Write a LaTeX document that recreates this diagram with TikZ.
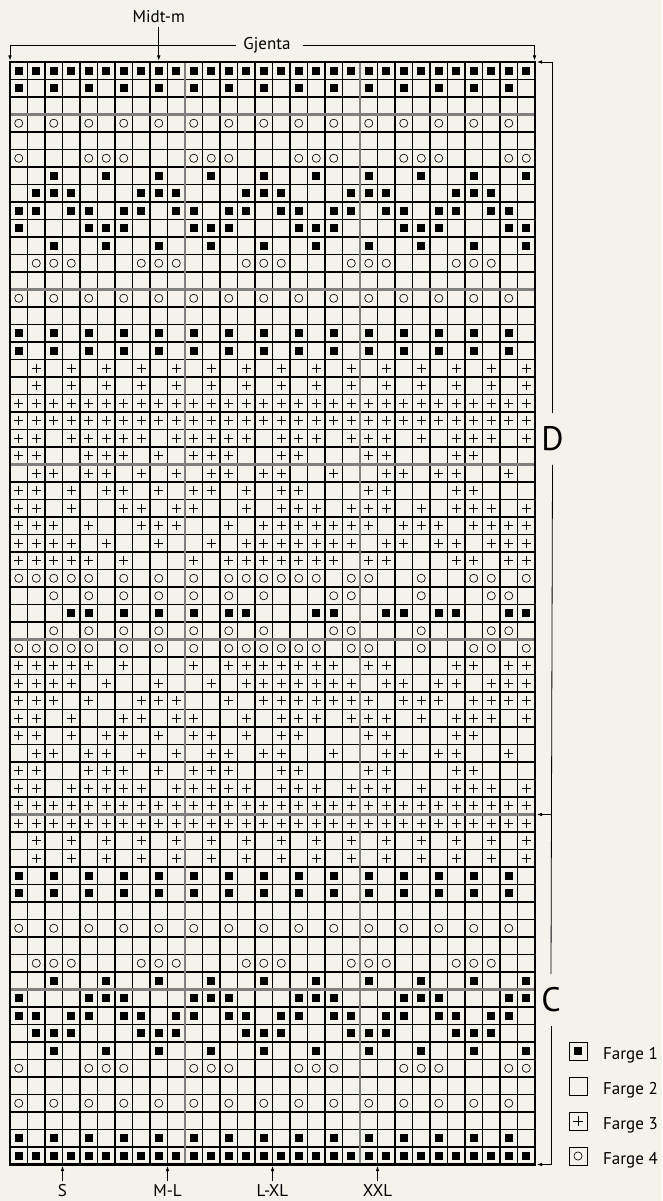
\documentclass[tikz,border=0pt]{standalone}
\usepackage{fontspec}
\setmainfont{PT Sans}
\usetikzlibrary{arrows.meta}
\definecolor{bg}{HTML}{F5F2EB}
\definecolor{gridgray}{HTML}{808080}
\newcount\chcol
\def\chartrow#1#2{\global\chcol=0 \def\chrow{#1}\chparse#2\relax}
\def\chparse#1{\ifx#1\relax\else\global\advance\chcol by 1 \chsym#1\expandafter\chparse\fi}
\def\chsym#1{%
  \pgfmathsetmacro\cx{10+17.5*(\the\chcol-0.5)}%
  \pgfmathsetmacro\cy{62+17.5*(\chrow-0.5)}%
  \ifx#1F\fill[black] (\cx-3.9,\cy-3.9) rectangle (\cx+3.9,\cy+3.9);\fi
  \ifx#1P\draw[symline] (\cx-4.6,\cy) -- (\cx+4.6,\cy) (\cx,\cy-4.6) -- (\cx,\cy+4.6);\fi
  \ifx#1O\draw[symline] (\cx,\cy) circle[radius=4.1];\fi}
\tikzset{
  cellline/.style={line width=1.1pt, black},
  blockline/.style={line width=2.3pt, gridgray},
  border/.style={line width=2.7pt, black},
  symline/.style={line width=0.65pt, black},
  conn/.style={line width=0.8pt, black},
  arr/.style={conn, -{Latex[length=5pt,width=3.6pt]}},
  lbl/.style={font=\fontsize{17}{20}\selectfont, inner sep=0pt},
  biglbl/.style={font=\fontsize{34}{40}\selectfont, inner xsep=2pt, inner ysep=13.5pt},
  legbox/.style={draw, line width=0.9pt, minimum size=18pt, inner sep=0pt},
}
\begin{document}
\begin{tikzpicture}[x=1pt,y=-1pt]
\fill[bg] (0,0) rectangle (662,1201);
\useasboundingbox (0,0) rectangle (662,1201);
% grid
\foreach \i in {0,...,30} \draw[cellline] ({10+17.5*\i},62) -- ({10+17.5*\i},1164.5);
\foreach \j in {0,...,63} \draw[cellline] (10,{62+17.5*\j}) -- (535,{62+17.5*\j});
\foreach \i in {10,20} \draw[blockline] ({10+17.5*\i},62) -- ({10+17.5*\i},1164.5);
\foreach \j in {3,13,23,33,43,53} \draw[blockline] (10,{62+17.5*\j}) -- (535,{62+17.5*\j});
\draw[border] (10,62) rectangle (535,1164.5);
% symbols (F = Farge 1, - = Farge 2, P = Farge 3, O = Farge 4)
\foreach \r/\s in {
1/FFFFFFFFFFFFFFFFFFFFFFFFFFFFFF,
2/F-F-F-F-F-F-F-F-F-F-F-F-F-F-F-,
3/------------------------------,
4/O-O-O-O-O-O-O-O-O-O-O-O-O-O-O-,
5/------------------------------,
6/O---OOO---OOO---OOO---OOO---OO,
7/--F--F--F--F--F--F--F--F--F--F,
8/-FFF---FFF---FFF---FFF---FFF--,
9/FF-FF-FF-FF-FF-FF-FF-FF-FF-FF-,
10/F---FFF---FFF---FFF---FFF---FF,
11/--F--F--F--F--F--F--F--F--F--F,
12/-OOO---OOO---OOO---OOO---OOO--,
13/------------------------------,
14/O-O-O-O-O-O-O-O-O-O-O-O-O-O-O-,
15/------------------------------,
16/F-F-F-F-F-F-F-F-F-F-F-F-F-F-F-,
17/F-F-F-F-F-F-F-F-F-F-F-F-F-F-F-,
18/-P-P-P-P-P-P-P-P-P-P-P-P-P-P-P,
19/-P-P-P-P-P-P-P-P-P-P-P-P-P-P-P,
20/PPPPPPPPPPPPPPPPPPPPPPPPPPPPPP,
21/PPPPPPPPPPPPPPPPPPPPPPPPPPPPPP,
22/PP-PPPPP-PPPPP-PPP-PPP-P-PPP-P,
23/PP--PPP-P-PPP--PP---PP---PP---,
24/-PP-PP-P-P-PP-PP--P--PP-PP--P-,
25/PP-P-PP-P-PP-P-PP---PP---PP---,
26/PP-P--PP-PP--P-PPP-PPP-P-PPP-P,
27/PPP-P--PPP--P-PPPPPPP-PPP-PPPP,
28/PPPP-P--P--P-PPPPPPP-PP-PP-PPP,
29/PPPPP-P---P-PPPPPPP-PP---PP-PP,
30/OOOOO-O-O-O-OOOOOO-OO--O--OO-O,
31/--O-O-O-O-O-O-O---OO---O---OO-,
32/---FF-F-F-F-FF---FF--FF-FF--FF}{%
  \edef\tmp{\noexpand\chartrow{\r}{\s}}\tmp
  \pgfmathtruncatemacro\rr{64-\r}%
  \edef\tmp{\noexpand\chartrow{\rr}{\s}}\tmp
}
% top labels
\node[lbl] (midt) at (158.75,17) {Midt-m};
\coordinate (midtend) at (158.75,60.5);
\draw[arr] ([yshift=-4pt]midt.south) -- (midtend);
\node[lbl] (gj) at (267,45) {Gjenta};
\coordinate (gjl) at (10,60.5);
\coordinate (gjr) at (534.5,60.5);
\draw[arr] ([xshift=-7pt]gj.west) -| (gjl);
\draw[arr] ([xshift=12pt]gj.east) -| (gjr);
% right bracket
\node[biglbl] (D) at (552.5,439) {D};
\node[biglbl] (C) at (551,1000) {C};
\coordinate (gt) at (537,62);
\coordinate (rm) at (552,814.5);
\coordinate (gm) at (537,814.5);
\coordinate (gb) at (537,1164.5);
\draw[arr] (D.north) |- (gt);
\draw[conn] (D.south) -- (C.north);
\draw[arr] (rm) -- (gm);
\draw[arr] (C.south) |- (gb);
% bottom labels
\foreach \n/\x/\t in {S/62.5/S, ML/167.5/M-L, LXL/272.5/L-XL, XXL/377.5/XXL}{
  \node[lbl, anchor=north] (\n) at (\x,1184) {\t};
  \coordinate (\n g) at (\x,1166);
  \draw[arr] ([yshift=3pt]\n.north) -- (\n g);
}
% legend
\node[legbox] (L1) at (578,1051) {};
\node[legbox] (L2) at (578,1086) {};
\node[legbox] (L3) at (578,1121) {};
\node[legbox] (L4) at (578,1156) {};
\fill[black] ([xshift=-4pt,yshift=-4pt]L1.center) rectangle ([xshift=4pt,yshift=4pt]L1.center);
\draw[symline] ([xshift=-4.6pt]L3.center) -- ([xshift=4.6pt]L3.center);
\draw[symline] ([yshift=-4.6pt]L3.center) -- ([yshift=4.6pt]L3.center);
\draw[symline] (L4.center) circle[radius=4.1];
\node[lbl, anchor=base west] (T1) at (603,1059) {Farge 1};
\node[lbl, anchor=base west] (T2) at (603,1094) {Farge 2};
\node[lbl, anchor=base west] (T3) at (603,1129) {Farge 3};
\node[lbl, anchor=base west] (T4) at (603,1164) {Farge 4};
\end{tikzpicture}
\end{document}
